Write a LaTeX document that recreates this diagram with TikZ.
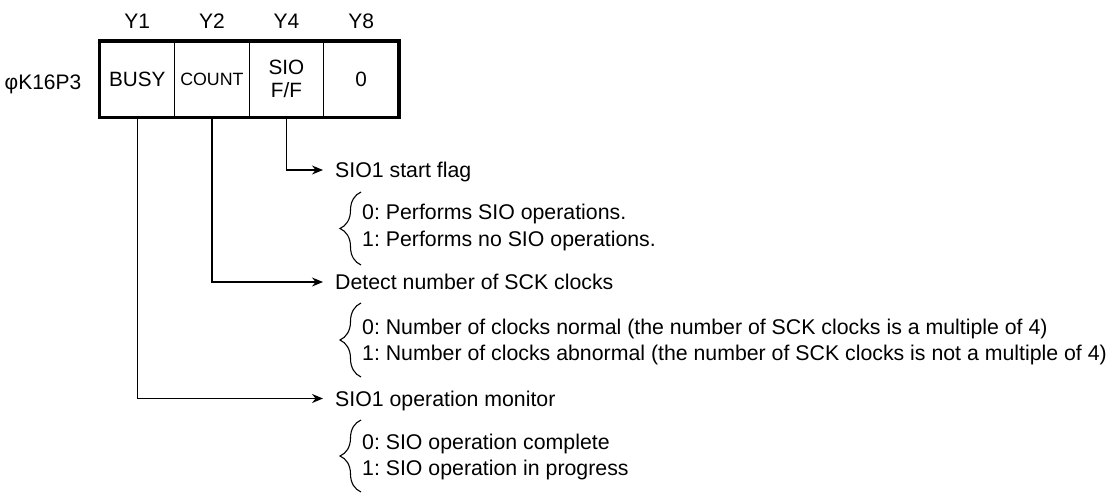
\documentclass[tikz,border=0pt]{standalone}
\usepackage{fontspec}
\setmainfont{Liberation Sans}
\usetikzlibrary{arrows.meta,decorations.pathreplacing}
\frenchspacing
\begin{document}
\begin{tikzpicture}[x=1pt,y=-1pt,
  lbl/.style={font=\fontsize{21}{24}\selectfont, inner sep=0pt, text height=15pt, text depth=0pt},
  item/.style={font=\fontsize{21.3}{24}\selectfont, inner sep=0pt, text height=15.25pt, text depth=0pt, anchor=west},
  cell/.style={draw, line width=1.3pt, minimum width=74.6pt, minimum height=75pt, inner sep=0pt, font=\fontsize{20.7}{23}\selectfont},
  conn/.style={line width=1.3pt, -{Stealth[length=11pt,width=9pt]}},
  brc/.style={line width=1.1pt, decorate, decoration={brace, amplitude=21pt, aspect=0.5}}
]
\frenchspacing
\useasboundingbox (0,0) rectangle (1108,493);
% register cells
\node[cell] (c1) at (137.3,79.2) {BUSY};
\node[cell, font=\fontsize{17.8}{20}\selectfont] (c2) at (211.9,79.2) {COUNT};
\node[cell, align=center] (c3) at (286.5,79.2) {SIO\\F/F};
\node[cell] (c4) at (361.1,79.2) {0};
\draw[line width=3.3pt] (c1.north west) rectangle (c4.south east);
% bit labels
\node[lbl] (y1) at (137.3,21) {Y1};
\node[lbl] (y2) at (211.9,21) {Y2};
\node[lbl] (y4) at (286.5,21) {Y4};
\node[lbl] (y8) at (361.1,21) {Y8};
\node[lbl] (reg) at (43,82) {φK16P3};
% descriptions
\node[item] (sf) at (335,170) {SIO1 start flag};
\node[item] (sf0) at (362,212) {0: Performs SIO operations.};
\node[item] (sf1) at (362,238.5) {1: Performs no SIO operations.};
\node[item] (dn) at (335,282) {Detect number of SCK clocks};
\node[item] (dn0) at (362,327) {0: Number of clocks normal (the number of SCK clocks is a multiple of 4)};
\node[item] (dn1) at (362,353.3) {1: Number of clocks abnormal (the number of SCK clocks is not a multiple of 4)};
\node[item] (om) at (335,398.5) {SIO1 operation monitor};
\node[item] (om0) at (362,442) {0: SIO operation complete};
\node[item] (om1) at (362,468.3) {1: SIO operation in progress};
% connectors
\draw[conn] (c3.south) |- ([xshift=-12pt]sf.west);
\draw[conn] (c2.south) |- ([xshift=-12pt]dn.west);
\draw[conn] (c1.south) |- ([xshift=-12pt]om.west);
% braces
\draw[brc] (361,265) -- (361,192);
\draw[brc] (361,377) -- (361,303);
\draw[brc] (361,492) -- (361,420);
\end{tikzpicture}
\end{document}
